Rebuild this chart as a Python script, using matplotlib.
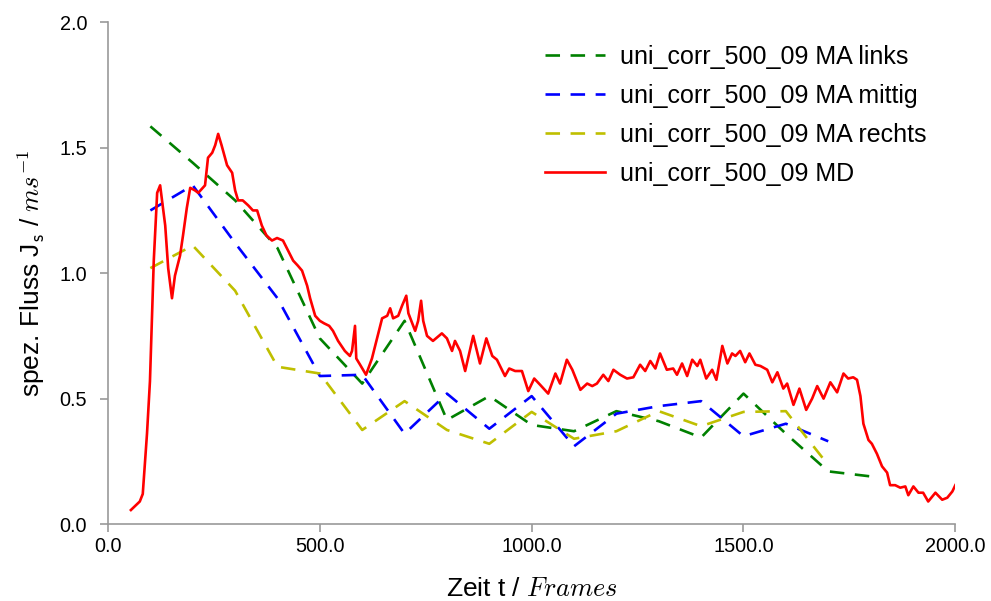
import numpy as np
import matplotlib
matplotlib.use("Agg")
import matplotlib.pyplot as plt
from matplotlib.ticker import FormatStrFormatter

plt.rcParams['font.family'] = ['Liberation Sans', 'DejaVu Sans']
plt.rcParams['mathtext.fontset'] = 'cm'

# moving averages (MA), one value every 100 frames
ma_x_links = [100, 200, 300, 400, 500, 600, 700, 800, 900, 1000, 1100, 1200, 1300, 1400, 1500, 1600, 1700, 1800]
ma_links = [1.585, 1.44, 1.29, 1.10, 0.74, 0.56, 0.81, 0.415, 0.51, 0.395, 0.37, 0.45, 0.41, 0.345, 0.52, 0.36, 0.21, 0.19]

ma_x_mittig = [100, 200, 300, 400, 500, 600, 700, 800, 900, 1000, 1100, 1200, 1300, 1400, 1500, 1600, 1700]
ma_mittig = [1.25, 1.35, 1.12, 0.90, 0.59, 0.595, 0.36, 0.52, 0.38, 0.51, 0.31, 0.44, 0.47, 0.49, 0.35, 0.40, 0.33]

ma_x_rechts = [100, 200, 300, 400, 500, 600, 700, 800, 900, 1000, 1100, 1200, 1300, 1400, 1500, 1600, 1700]
ma_rechts = [1.02, 1.11, 0.93, 0.627, 0.60, 0.375, 0.49, 0.375, 0.32, 0.447, 0.34, 0.37, 0.45, 0.39, 0.447, 0.45, 0.235]

# MD
md_x = [54, 75, 82, 92, 99, 108, 116, 123, 135, 142, 151, 158, 170, 177, 186, 194, 205, 213, 229, 236,
        246, 253, 260, 268, 281, 293, 300, 307, 318, 331, 342, 352, 363, 374, 387, 399, 413, 425, 437, 448,
        458, 470, 477, 489, 500, 510, 522, 531, 543, 559, 571, 576, 583, 586, 595, 609, 623, 635, 647, 659,
        666, 673, 685, 694, 704, 709, 725, 732, 739, 744, 753, 767, 788, 800, 812, 819, 831, 843, 862, 878,
        893, 907, 918, 937, 947, 961, 977, 992, 1006, 1020, 1039, 1056, 1067, 1083, 1096, 1115, 1131, 1143, 1154, 1169,
        1181, 1193, 1209, 1225, 1240, 1256, 1268, 1280, 1292, 1303, 1319, 1334, 1343, 1355, 1367, 1379, 1391, 1398, 1412, 1426,
        1436, 1450, 1462, 1473, 1481, 1492, 1504, 1514, 1528, 1540, 1556, 1568, 1580, 1594, 1603, 1618, 1632, 1648, 1662, 1674,
        1689, 1705, 1721, 1736, 1747, 1759, 1768, 1776, 1783, 1795, 1803, 1815, 1827, 1839, 1846, 1858, 1870, 1882, 1889, 1901,
        1913, 1924, 1936, 1953, 1969, 1981, 1993, 2000]
md_y = [0.056, 0.09, 0.12, 0.36, 0.57, 1.05, 1.32, 1.35, 1.19, 1.02, 0.90, 0.99, 1.07, 1.15, 1.26, 1.34, 1.33, 1.32, 1.35, 1.46,
        1.48, 1.51, 1.555, 1.51, 1.43, 1.40, 1.33, 1.29, 1.29, 1.27, 1.25, 1.25, 1.19, 1.15, 1.13, 1.14, 1.13, 1.09, 1.05, 1.03,
        1.01, 0.95, 0.90, 0.83, 0.81, 0.80, 0.79, 0.77, 0.73, 0.69, 0.67, 0.69, 0.79, 0.66, 0.635, 0.595, 0.66, 0.74, 0.82, 0.83,
        0.86, 0.82, 0.83, 0.87, 0.91, 0.84, 0.77, 0.81, 0.89, 0.81, 0.75, 0.73, 0.76, 0.74, 0.69, 0.73, 0.69, 0.61, 0.75, 0.64,
        0.74, 0.67, 0.655, 0.59, 0.62, 0.61, 0.61, 0.53, 0.58, 0.555, 0.52, 0.60, 0.56, 0.655, 0.615, 0.535, 0.56, 0.55, 0.56, 0.595,
        0.57, 0.615, 0.595, 0.58, 0.585, 0.635, 0.61, 0.65, 0.62, 0.68, 0.615, 0.62, 0.595, 0.64, 0.59, 0.655, 0.63, 0.655, 0.58, 0.615,
        0.575, 0.71, 0.64, 0.68, 0.67, 0.69, 0.645, 0.68, 0.635, 0.63, 0.615, 0.565, 0.605, 0.54, 0.56, 0.475, 0.54, 0.455, 0.50, 0.55,
        0.50, 0.565, 0.525, 0.60, 0.58, 0.585, 0.575, 0.51, 0.40, 0.335, 0.32, 0.28, 0.23, 0.205, 0.155, 0.155, 0.145, 0.15, 0.115, 0.15,
        0.125, 0.125, 0.09, 0.125, 0.097, 0.105, 0.13, 0.155]

labels = ['uni_corr_500_09 MA links', 'uni_corr_500_09 MA mittig',
          'uni_corr_500_09 MA rechts', 'uni_corr_500_09 MD']

fig = plt.figure(figsize=(9.91, 6.01), dpi=100)
ax = fig.add_axes([0.109, 0.128, 0.855, 0.835])

dash = (5.5, 4)
ax.plot(ma_x_links, ma_links, color='g', lw=1.9, dashes=dash, label=labels[0])
ax.plot(ma_x_mittig, ma_mittig, color='b', lw=1.9, dashes=dash, label=labels[1])
ax.plot(ma_x_rechts, ma_rechts, color='y', lw=1.9, dashes=dash, label=labels[2])
ax.plot(md_x, md_y, color='r', lw=1.9, label=labels[3])

ax.set_xlim(0, 2000)
ax.set_ylim(0, 2.0)
ax.set_xticks([0, 500, 1000, 1500, 2000])
ax.set_yticks([0, 0.5, 1.0, 1.5, 2.0])
ax.xaxis.set_major_formatter(FormatStrFormatter('%.1f'))
ax.yaxis.set_major_formatter(FormatStrFormatter('%.1f'))

ax.spines['right'].set_visible(False)
ax.spines['top'].set_visible(False)
for s in ['left', 'bottom']:
    ax.spines[s].set_color('#999999')
    ax.spines[s].set_linewidth(1.2)
ax.tick_params(direction='out', length=6, width=1.2, color='#999999', labelsize=14.3, labelcolor='black')
ax.tick_params(axis='y', pad=9)

ax.set_xlabel('Zeit t / $Frames$', fontsize=19, labelpad=15)
ax.set_ylabel('spez. Fluss J$_\\mathsf{s}$ / $ms^{-1}$', fontsize=19, labelpad=9)

ax.legend(loc='upper right', frameon=False, fontsize=18, handlelength=2.4, handletextpad=0.6,
          labelspacing=0.6, bbox_to_anchor=(0.993, 1.0))

fig.savefig('out.png', dpi=100)
